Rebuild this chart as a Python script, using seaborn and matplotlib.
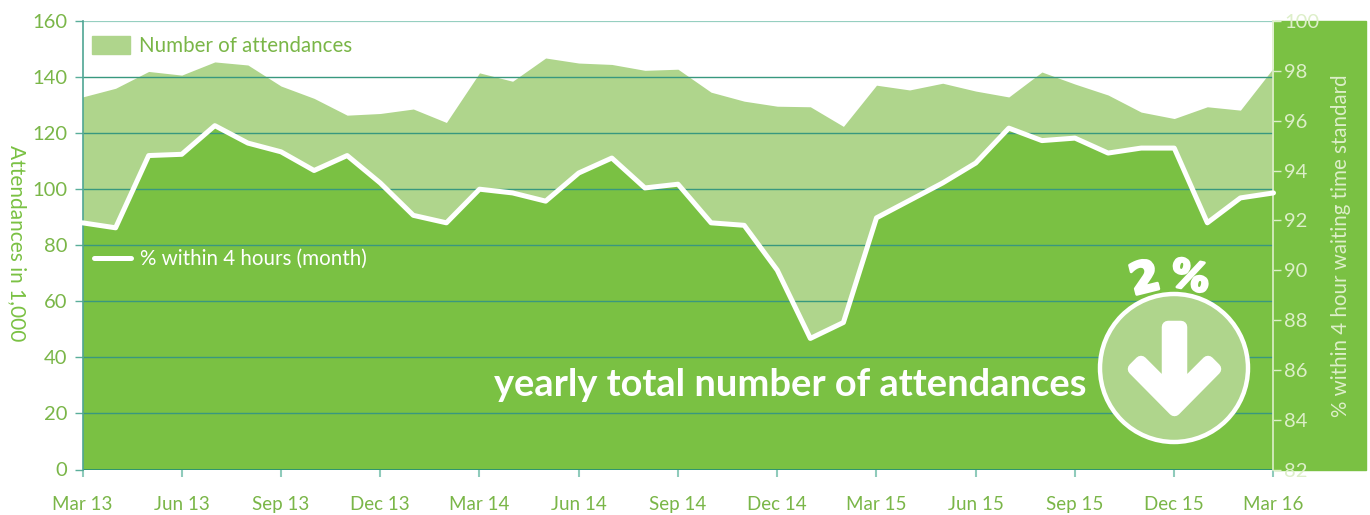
import numpy as np
import pandas as pd
import matplotlib
matplotlib.use("Agg")
import matplotlib.pyplot as plt
import matplotlib.patheffects as pe
from matplotlib.patches import Rectangle, Circle, Patch, Polygon
from matplotlib.lines import Line2D
import seaborn as sns

months = ["Mar 13","Apr 13","May 13","Jun 13","Jul 13","Aug 13","Sep 13","Oct 13","Nov 13","Dec 13","Jan 14","Feb 14",
          "Mar 14","Apr 14","May 14","Jun 14","Jul 14","Aug 14","Sep 14","Oct 14","Nov 14","Dec 14","Jan 15","Feb 15",
          "Mar 15","Apr 15","May 15","Jun 15","Jul 15","Aug 15","Sep 15","Oct 15","Nov 15","Dec 15","Jan 16","Feb 16","Mar 16"]
attendances = [132.9,136,142,140.7,145.4,144.3,136.8,132.4,126.4,127,128.6,123.8,
               141.5,138.5,146.8,145,144.5,142.4,142.8,134.6,131.4,129.6,129.4,122.4,
               137.1,135.4,137.8,135,132.9,141.8,137.5,133.6,127.5,125.2,129.4,128.2,143.3]
within_4h = [91.9,91.7,94.6,94.65,95.8,95.1,94.75,94,94.6,93.5,92.2,91.9,
             93.25,93.1,92.77,93.9,94.5,93.3,93.45,91.9,91.8,90,87.26,87.9,
             92.1,92.8,93.5,94.3,95.7,95.2,95.3,94.7,94.9,94.9,91.9,92.9,93.1]
left_ticks = list(range(0, 161, 20))
right_ticks = list(range(82, 101, 2))

GREEN = "#7AC143"; LIGHT = "#AFD58C"; TEXT = "#7AB648"; GRID = "#38987F"; PALE = "#DDEFC9"

sns.set_theme(style="white")
plt.rcParams["font.family"] = ["Lato", "DejaVu Sans"]

W, H = 1370, 515
fig = plt.figure(figsize=(W/100, H/100), dpi=100, facecolor="white")
L, R, T, B = 82.5, 1273.5, 21, 469.5
strip = Rectangle((1273.5/W, (H-B)/H), (1366-1273.5)/W, (B-T)/H, transform=fig.transFigure, color=GREEN, zorder=0)
fig.add_artist(strip)

ax = fig.add_axes([L/W, (H-B)/H, (R-L)/W, (B-T)/H])
df = pd.DataFrame({"x": np.arange(len(months)), "att": attendances, "pct": within_4h})
ax.fill_between(df.x, df.att, 0, color=LIGHT, lw=0, zorder=1)
ax.set_xlim(0, len(months)-1); ax.set_ylim(0, 160)
ax.set_yticks(left_ticks)
ax.set_xticks(df.x[::3]); ax.set_xticklabels(months[::3])
ax.tick_params(axis="y", length=6, width=1, color="#5AAE9A", labelsize=14.5, labelcolor=TEXT, pad=5, left=True)
ax.tick_params(axis="x", length=5, width=1.5, color="#8FCBBB", labelsize=13.5, labelcolor=TEXT, pad=14, bottom=True)
for s in ax.spines.values():
    s.set_visible(False)
ax.set_xlabel(""); ax.set_ylabel("")

ax2 = ax.twinx()
ax2.set_ylim(82, 100)
ax2.set_yticks(right_ticks)
ax2.tick_params(axis="y", length=6, width=1, color=PALE, labelsize=14.5, labelcolor=PALE, pad=1.5, right=True)
ax2.patch.set_visible(False)
ax2.fill_between(df.x, df.pct, 82, color=GREEN, lw=0, zorder=1)
ax2.hlines(left_ticks[1:-1], 0, len(months)-1, transform=ax.transData, color=GRID, lw=1.0, zorder=2)
ax2.hlines([160], 0, len(months)-1, transform=ax.transData, color="#96CFC0", lw=1.6, zorder=2)
ax2.hlines([0], 0, len(months)-1, transform=ax.transData, color="#2F9470", lw=1.4, zorder=2)
sns.lineplot(data=df, x="x", y="pct", ax=ax2, color="white", lw=3.6, zorder=3, clip_on=False,
             solid_joinstyle="round", solid_capstyle="round", errorbar=None)
ax2.set_xlabel(""); ax2.set_ylabel("")
for n, s in ax2.spines.items():
    s.set_visible(n in ("left", "right"))
ax2.spines["left"].set_color("#4FA594"); ax2.spines["left"].set_linewidth(1.2)
ax2.spines["right"].set_color(PALE); ax2.spines["right"].set_linewidth(1.2)

leg_font = {"size": 14.8}
leg1 = ax2.legend(handles=[Patch(color=LIGHT, label="Number of attendances")], loc="center left",
                  bbox_to_anchor=(9.5/(R-L), 1-(46-T)/(B-T)), frameon=False, prop=leg_font, labelcolor=TEXT,
                  handlelength=1.85, handleheight=0.95, handletextpad=0.45, borderpad=0, borderaxespad=0)
ax2.add_artist(leg1)
ax2.legend(handles=[Line2D([0], [0], color="white", lw=3.6, solid_capstyle="round", label="% within 4 hours (month)")],
           loc="center left", bbox_to_anchor=(11.5/(R-L), 1-(259-T)/(B-T)), frameon=False, prop=leg_font, labelcolor="white",
           handlelength=1.78, handletextpad=0.45, borderpad=0, borderaxespad=0)

# overlay in pixel coordinates for the annotations
ov = fig.add_axes([0, 0, 1, 1], facecolor="none")
ov.set_xlim(0, W); ov.set_ylim(H, 0); ov.axis("off")
ov.text(17, 243, "Attendances in 1,000", rotation=270, color=GREEN, fontsize=15, ha="center", va="center")
ov.text(1341, 246, "% within 4 hour waiting time standard", rotation=90, color=PALE, fontsize=14.8, ha="center", va="center")
ov.text(1087, 385, "yearly total number of attendances", color="white", fontsize=27.4, fontweight="bold",
        ha="right", va="center")
ov.add_patch(Circle((1174, 368), 74, facecolor=LIGHT, edgecolor="white", lw=3.2, zorder=3))
ov.add_patch(Polygon([(1168,327),(1181,327),(1181,389),(1208,362),(1215,369),(1174.5,410),
                      (1134,369),(1141,362),(1168,389)], closed=True, facecolor="white", edgecolor="white",
                     lw=9, joinstyle="round", zorder=4))
stroke = [pe.withStroke(linewidth=2, foreground="white")]
ov.text(1145, 280, "2", color="white", fontsize=31, fontweight="bold", family="DejaVu Sans",
        rotation=14, ha="center", va="center", zorder=5, path_effects=stroke)
ov.text(1190, 278, "%", color="white", fontsize=28, fontweight="bold", family="DejaVu Sans",
        rotation=-12, ha="center", va="center", zorder=5, path_effects=stroke)

fig.savefig("out.png", dpi=100)
